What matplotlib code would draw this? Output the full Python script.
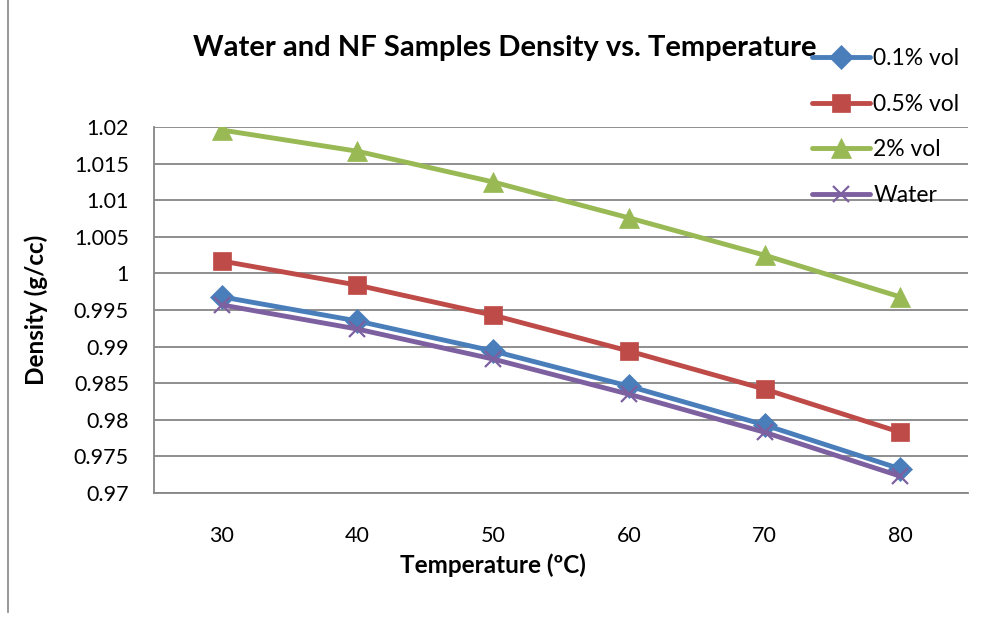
import matplotlib
matplotlib.use("Agg")
import matplotlib.pyplot as plt
from matplotlib.lines import Line2D
from matplotlib.ticker import FuncFormatter, MultipleLocator

plt.rcParams['font.family'] = ['Lato', 'DejaVu Sans']

temperatures = [30, 40, 50, 60, 70, 80]
vol_01 = [0.9968, 0.9935, 0.9894, 0.9846, 0.9793, 0.9733]
vol_05 = [1.0017, 0.9984, 0.9943, 0.9894, 0.9842, 0.9783]
vol_2 = [1.0196, 1.0167, 1.0125, 1.0076, 1.0025, 0.9968]
water = [0.9957, 0.9924, 0.9883, 0.9835, 0.9783, 0.9723]

series = [
    ("0.1% vol", vol_01, "#4A7EBB", "D", 12),
    ("0.5% vol", vol_05, "#BE4B48", "s", 13.5),
    ("2% vol", vol_2, "#98B954", "^", 14),
    ("Water", water, "#7D60A0", "x", 12),
]

fig = plt.figure(figsize=(9.89, 6.17), dpi=100)
ax = fig.add_axes([0.1557, 0.201, 0.8231, 0.593])

x = list(range(len(temperatures)))
for label, vals, color, marker, ms in series:
    ax.plot(x, vals, color=color, lw=3.5, marker=marker, markersize=ms,
            markeredgewidth=1.6 if marker == "x" else 0.5,
            markeredgecolor=color, markerfacecolor=color, label=label,
            solid_capstyle='round', zorder=3)

ax.set_xlim(-0.5, len(temperatures) - 0.5)
ax.set_ylim(0.97, 1.02)
ax.set_xticks(x)
ax.set_xticklabels([str(t) for t in temperatures])
ax.yaxis.set_major_locator(MultipleLocator(0.005))
ax.yaxis.set_major_formatter(FuncFormatter(lambda v, _: f"{v:.3f}".rstrip('0').rstrip('.')))
ax.grid(axis='y', color='#868686', lw=1.3)
ax.set_axisbelow(True)
for side in ('top', 'right'):
    ax.spines[side].set_visible(False)
for side in ('left', 'bottom'):
    ax.spines[side].set_color('#868686')
    ax.spines[side].set_linewidth(1.3)
ax.tick_params(axis='both', length=0, labelsize=15.5)
ax.tick_params(axis='y', pad=18)
ax.tick_params(axis='x', pad=24)

ax.set_xlabel("Temperature (\u00baC)", fontsize=17.5, fontweight='bold', labelpad=0)
ax.xaxis.set_label_coords(0.416, -0.165)
ax.set_ylabel("Density (g/cc)", fontsize=17.5, fontweight='bold')
ax.yaxis.set_label_coords(-0.130, 0.5)

fig.text(0.51, 0.922, "Water and NF Samples Density vs. Temperature",
         ha='center', va='center', fontsize=21, fontweight='bold')

fig.legend(loc='upper left', bbox_to_anchor=(0.821, 0.922), frameon=False,
           fontsize=16.5, labelspacing=1.07, handlelength=2.55, handletextpad=0.12,
           borderpad=0, borderaxespad=0)

fig.add_artist(Line2D([0.008, 0.008], [0.008, 1.0], transform=fig.transFigure,
                      color='#868686', lw=1.2))

fig.savefig("out.png", dpi=100)
